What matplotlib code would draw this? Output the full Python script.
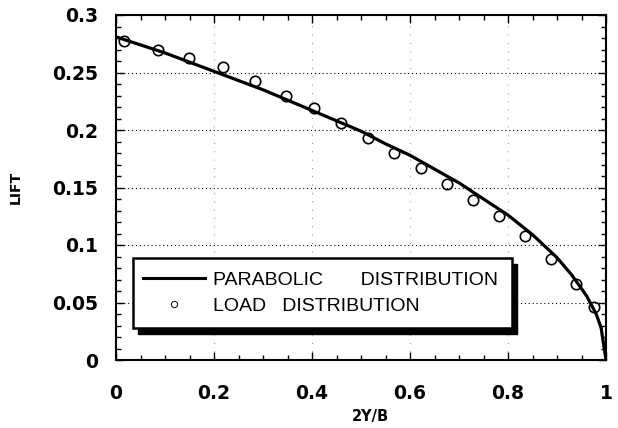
import matplotlib.pyplot as plt
from matplotlib.lines import Line2D
from matplotlib.patches import Rectangle
from matplotlib.ticker import MultipleLocator

# parabolic distribution curve
curve_x = [0, 0.05, 0.1, 0.15, 0.2, 0.25, 0.3, 0.35, 0.4, 0.45, 0.5, 0.55,
           0.6, 0.65, 0.7, 0.75, 0.8, 0.85, 0.9, 0.93, 0.96, 0.98, 0.99, 1.0]
curve_y = [0.281, 0.274, 0.267, 0.259, 0.251, 0.243, 0.235, 0.226, 0.217,
           0.208, 0.199, 0.188, 0.178, 0.166, 0.154, 0.140, 0.126, 0.109,
           0.089, 0.074, 0.056, 0.040, 0.028, 0.0]

# load distribution points
load_x = [0.017, 0.085, 0.149, 0.218, 0.284, 0.347, 0.405, 0.459, 0.514,
          0.568, 0.622, 0.675, 0.728, 0.782, 0.835, 0.887, 0.939, 0.976]
load_y = [0.277, 0.270, 0.263, 0.255, 0.243, 0.230, 0.219, 0.206, 0.193,
          0.180, 0.167, 0.153, 0.139, 0.125, 0.108, 0.088, 0.066, 0.046]

xticks = [0, 0.2, 0.4, 0.6, 0.8, 1]
xlabels = ['0', '0.2', '0.4', '0.6', '0.8', '1']
yticks = [0, 0.05, 0.1, 0.15, 0.2, 0.25, 0.3]
ylabels = ['0', '0.05', '0.1', '0.15', '0.2', '0.25', '0.3']

W, H = 618, 428
fig = plt.figure(figsize=(W / 100, H / 100), dpi=100)
ax = fig.add_axes([116 / W, (H - 360) / H, 490 / W, 345 / H])

ax.plot(curve_x, curve_y, color='black', lw=2.3, zorder=3)
ax.plot(load_x, load_y, ls='none', marker='o', ms=7.5, mfc='none',
        mec='black', mew=1.2, zorder=4)

ax.set_xlim(0, 1)
ax.set_ylim(0, 0.3)

# grid: dotted horizontals, very sparse verticals
for y in yticks[1:-1]:
    ax.axhline(y, color='black', lw=0.8, ls=(0, (1, 2.5)), zorder=1)
for x in xticks[1:-1]:
    ax.axvline(x, color='0.35', lw=0.6, ls=(0, (1, 9)), zorder=1)

ax.set_xticks(xticks)
ax.set_xticklabels(xlabels)
ax.set_yticks(yticks)
ax.set_yticklabels(ylabels)
ax.xaxis.set_minor_locator(MultipleLocator(0.05))
ax.yaxis.set_minor_locator(MultipleLocator(0.01))
ax.tick_params(which='both', direction='in', top=True, right=True,
               width=1.0, color='black')
ax.tick_params(which='major', length=6)
ax.tick_params(which='minor', length=3.5)
ax.tick_params(axis='x', which='major', pad=17)
ax.tick_params(axis='y', which='major', pad=13)
for lab in ax.get_xticklabels() + ax.get_yticklabels():
    lab.set_fontfamily('DejaVu Sans')
    lab.set_fontweight('bold')
    lab.set_fontsize(13.5)
for s in ax.spines.values():
    s.set_linewidth(1.5)

ax.set_ylabel('LIFT', fontsize=10, fontweight='bold', labelpad=0)
ax.yaxis.set_label_coords(-0.19, 0.5)
ax.set_xlabel('2Y/B', fontsize=10.5, fontweight='bold')
ax.xaxis.label.set_verticalalignment('center')
ax.xaxis.set_label_coords(0.52, -0.163)

# legend box with black drop shadow
bx0, by0 = (133 - 116) / 490, (360 - 328) / 345
bw, bh = (512 - 133) / 490, (328 - 258) / 345
sx, sy = 5 / 490, 6 / 345
ax.add_patch(Rectangle((bx0 + sx, by0 - sy), bw, bh, transform=ax.transAxes,
                       facecolor='black', edgecolor='black', zorder=5))
ax.add_patch(Rectangle((bx0, by0), bw, bh, transform=ax.transAxes,
                       facecolor='white', edgecolor='black', lw=1.8, zorder=6))

handles = [Line2D([], [], color='black', lw=2.2),
           Line2D([], [], ls='none', marker='o', ms=4.5, mfc='none',
                  mec='black', mew=0.7)]
labels = ['PARABOLIC       DISTRIBUTION', 'LOAD   DISTRIBUTION']
leg = ax.legend(handles, labels, loc='center left',
                bbox_to_anchor=(bx0, by0 + bh / 2), frameon=False,
                prop={'family': 'Liberation Sans', 'size': 14},
                handlelength=3.2, handletextpad=0.4, labelspacing=0.45,
                borderpad=0.3, borderaxespad=0.2)
leg.set_zorder(7)

fig.savefig('out.png', dpi=100)
